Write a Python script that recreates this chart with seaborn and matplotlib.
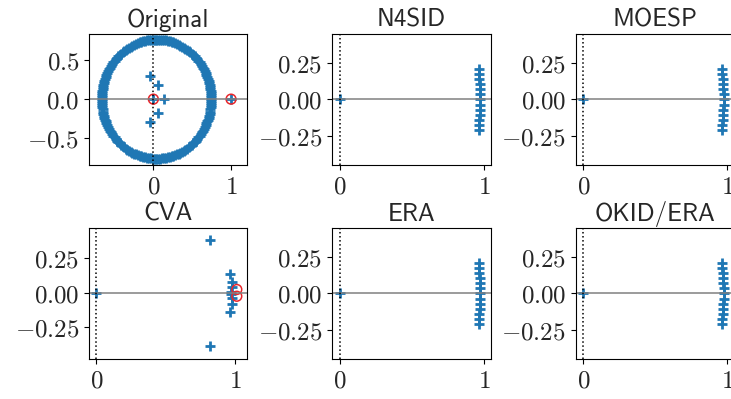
import numpy as np
import matplotlib
matplotlib.use("Agg")
import matplotlib.pyplot as plt
import seaborn as sns

sns.set_style("ticks")
plt.rcParams['mathtext.fontset'] = 'cm'
plt.rcParams['font.size'] = 18
BLUE, RED = '#1f77b4', '#e8262b'

# ---- data ----
# original system: ring of poles (centre, semi-axes, angles in degrees)
ring_center = 0.04
ring_rx, ring_ry = 0.705, 0.765
ring_angles = [0, 2, 4, 6, 8, 10, 12, 14, 16, 18, 20, 22, 24, 26, 28, 30, 32, 34, 36, 38,
               40, 42, 44, 46, 48, 50, 52, 54, 56, 58, 60, 62, 64, 66, 68, 70, 72, 74, 76, 78,
               80, 82, 84, 86, 88, 90, 92, 94, 96, 98, 100, 102, 104, 106, 108, 110, 112,
               114, 116, 118, 120, 122, 124, 126, 128, 130, 132, 134, 136, 138, 140, 142,
               144, 146, 148, 150, 152, 154, 156, 158, 160, 162, 164, 166, 168, 170, 172,
               174, 176, 178, 180, 182, 184, 186, 188, 190, 192, 194, 196, 198, 200, 202,
               204, 206, 208, 210, 212, 214, 216, 218, 220, 222, 224, 226, 228, 230, 232,
               234, 236, 238, 240, 242, 244, 246, 248, 250, 252, 254, 256, 258, 260, 262,
               264, 266, 268, 270, 272, 274, 276, 278, 280, 282, 284, 286, 288, 290, 292,
               294, 296, 298, 300, 302, 304, 306, 308, 310, 312, 314, 316, 318, 320, 322,
               324, 326, 328, 330, 332, 334, 336, 338, 340, 342, 344, 346, 348, 350, 352,
               354, 356, 358]
orig_inner_re = [0.0, -0.04, 0.055, 0.14, 0.055, -0.04, 1.0]
orig_inner_im = [0.0, 0.295, 0.18, 0.0, -0.18, -0.295, 0.0]
orig_zero_re = [0.0, 1.0]
orig_zero_im = [0.0, 0.0]

# identified models: pole stack near z = 1 plus a pole at the origin
stack_re = [0.0, 0.963, 0.966, 0.969, 0.971, 0.973, 0.974, 0.975,
            0.974, 0.973, 0.971, 0.969, 0.966, 0.963]
stack_im = [0.0, 0.21, 0.175, 0.14, 0.105, 0.07, 0.035, 0.0,
            -0.035, -0.07, -0.105, -0.14, -0.175, -0.21]

cva_re = [0.0, 0.82, 0.82, 0.962, 0.962, 0.976, 0.976, 0.98, 0.98, 0.972, 0.972]
cva_im = [0.0, 0.385, -0.385, 0.14, -0.14, 0.082, -0.08, 0.045, -0.04, 0.008, -0.01]
cva_zero_re = [1.012, 1.012]
cva_zero_im = [0.025, -0.024]

titles = ['Original', 'N4SID', 'MOESP', 'CVA', 'ERA', 'OKID/ERA']

ang = np.deg2rad(ring_angles)
ring_re = ring_center + ring_rx * np.cos(ang)
ring_im = ring_ry * np.sin(ang)

fig, axes = plt.subplots(2, 3, figsize=(7.31, 3.99), dpi=100)
fig.subplots_adjust(left=0.1218, right=1.0041, top=0.9155, bottom=0.1003,
                    wspace=0.537, hspace=0.478)


def poles(ax, re, im):
    sns.scatterplot(x=re, y=im, marker='+', s=58, color=BLUE, linewidth=2.0,
                    ax=ax, legend=False)


def zeros(ax, re, im):
    ax.scatter(re, im, marker='o', s=50, facecolors='none', edgecolors=RED,
               linewidths=1.1, zorder=1.5)


for ax, name in zip(axes.flat, titles):
    if name == 'Original':
        poles(ax, list(ring_re), list(ring_im))
        poles(ax, orig_inner_re, orig_inner_im)
        zeros(ax, orig_zero_re, orig_zero_im)
        ax.set_xlim(-0.828, 1.21)
        ax.set_ylim(-0.845, 0.84)
        ax.set_yticks([-0.5, 0, 0.5])
        ax.set_yticklabels([r'$-0.5$', r'$0.0$', r'$0.5$'])
    elif name == 'CVA':
        poles(ax, cva_re, cva_im)
        zeros(ax, cva_zero_re, cva_zero_im)
        ax.set_xlim(-0.053, 1.088)
        ax.set_ylim(-0.478, 0.472)
        ax.set_yticks([-0.25, 0, 0.25])
        ax.set_yticklabels([r'$-0.25$', r'$0.00$', r'$0.25$'])
    else:
        poles(ax, stack_re, stack_im)
        ax.set_xlim(-0.054, 1.047)
        ax.set_ylim(-0.45, 0.452)
        ax.set_yticks([-0.25, 0, 0.25])
        ax.set_yticklabels([r'$-0.25$', r'$0.00$', r'$0.25$'])
    ax.axhline(0, color='gray', lw=1.1)
    ax.axvline(0, color='k', ls=':', lw=1.1)
    ax.set_xticks([0, 1])
    ax.set_xticklabels([r'$0$', r'$1$'])
    ax.tick_params(labelsize=18, length=3.5, width=0.8, color='k')
    for sp in ax.spines.values():
        sp.set_color('k')
        sp.set_linewidth(0.8)
    ax.set_title(name, fontfamily='cmss10', fontsize=18, pad=5)

fig.savefig('out.png', dpi=100)
